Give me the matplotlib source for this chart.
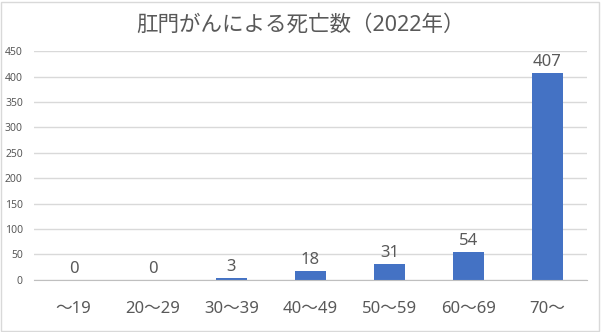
#肛門がんによる死亡数 (2022年) の年齢階級別棒グラフ

import matplotlib.pyplot as plt
from matplotlib.patches import Rectangle

plt.rcParams['font.family'] = ['Noto Sans', 'Noto Sans CJK JP', 'DejaVu Sans']

age_groups = ['～19', '20～29', '30～39', '40～49', '50～59', '60～69', '70～']
deaths = [0, 0, 3, 18, 31, 54, 407]
y_ticks = [0, 50, 100, 150, 200, 250, 300, 350, 400, 450]

bar_color = '#4472C4'
text_color = '#595959'

fig = plt.figure(figsize=(6.01, 3.32), dpi=100)
ax = fig.add_axes([0.0566, 0.157, 0.920, 0.689])

x = range(len(age_groups))
ax.bar(x, deaths, width=0.4, color=bar_color, zorder=3)

#数値ラベル
for xi, val in zip(x, deaths):
	ax.text(xi, val + 6, str(val), ha='center', va='bottom',
			fontsize=12, color=text_color)

ax.set_xlim(-0.5, len(age_groups) - 0.5)
ax.set_ylim(0, 450)
ax.set_yticks(y_ticks)
ax.set_yticklabels([str(t) for t in y_ticks], fontsize=7.5, color=text_color)
ax.set_xticks(list(x))
ax.set_xticklabels(age_groups, fontsize=12, color=text_color)
ax.tick_params(axis='both', length=0)
ax.tick_params(axis='x', pad=15)
ax.tick_params(axis='y', pad=8)

ax.grid(axis='y', color='#D9D9D9', linewidth=1, zorder=0)
for side in ['top', 'right', 'left']:
	ax.spines[side].set_visible(False)
ax.spines['bottom'].set_color('#BFBFBF')
ax.spines['bottom'].set_zorder(4)

fig.text(0.5, 0.925, '肛門がんによる死亡数（2022年）', ha='center', va='center',
		 fontsize=15.5, color=text_color)

#外枠
fig.patches.append(Rectangle((0.002, 0.003), 0.995, 0.992, transform=fig.transFigure,
							 fill=False, edgecolor='#D9D9D9', linewidth=1))

plt.savefig('out.png', dpi=100)
plt.close()
